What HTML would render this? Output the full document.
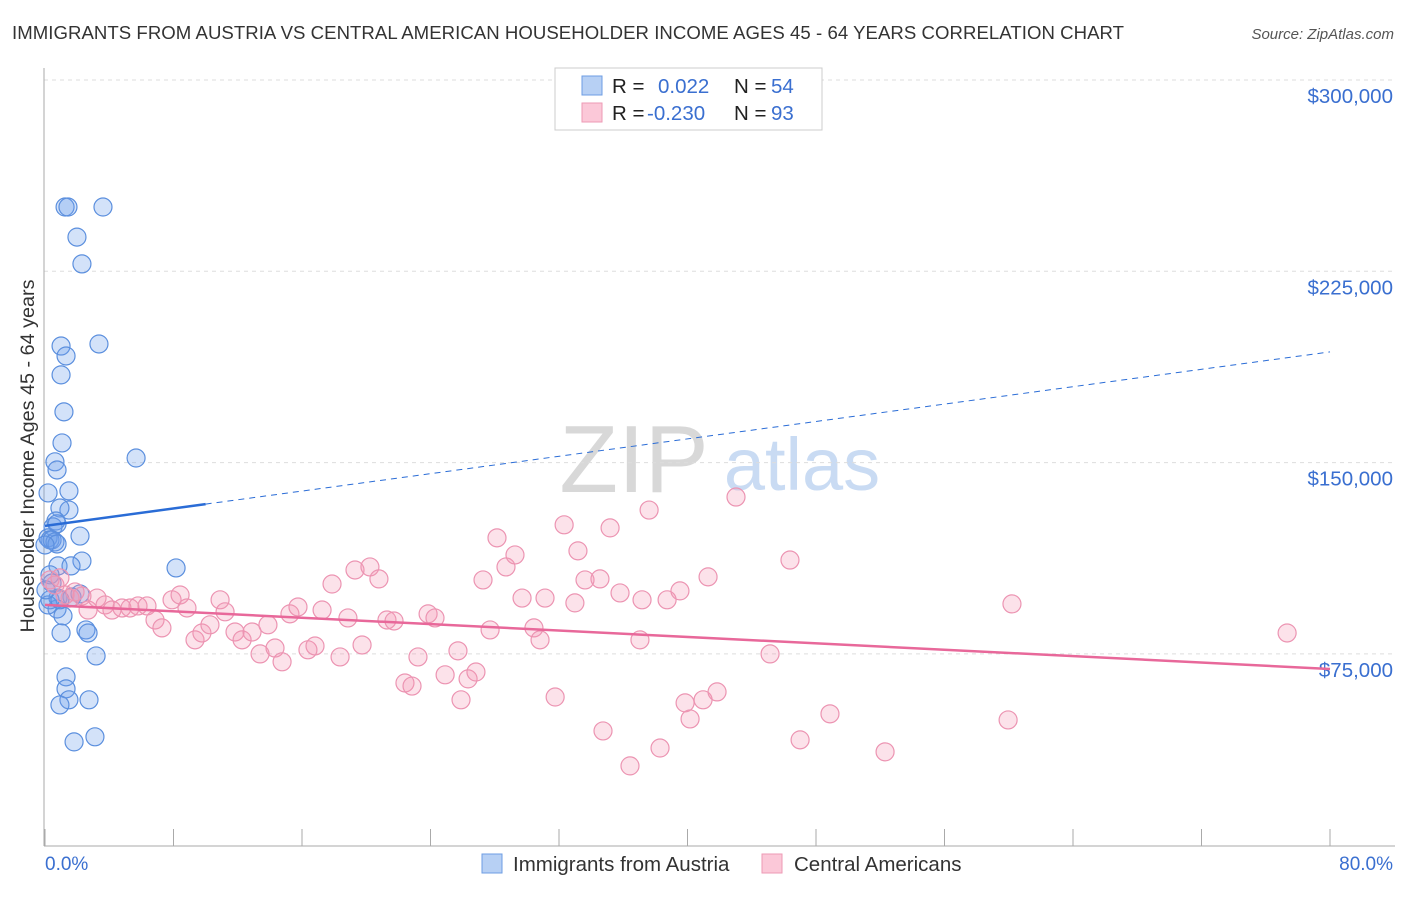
<!DOCTYPE html>
<html><head><meta charset="utf-8"><style>
body{margin:0;background:#fff;font-family:"Liberation Sans",sans-serif;}
svg text{font-family:"Liberation Sans",sans-serif;}
</style></head><body>
<svg id="c" width="1406" height="892" xmlns="http://www.w3.org/2000/svg">
<text x="12" y="39" font-size="18.6" fill="#333" textLength="1112">IMMIGRANTS FROM AUSTRIA VS CENTRAL AMERICAN HOUSEHOLDER INCOME AGES 45 - 64 YEARS CORRELATION CHART</text>
<text x="1394" y="39" font-size="15" fill="#555" font-style="italic" text-anchor="end">Source: ZipAtlas.com</text>
<g>
<text x="634" y="492" font-size="96" fill="#d8d8d8" font-family="Liberation Serif,serif" text-anchor="middle">ZIP</text>
<text x="802" y="490" font-size="74" fill="#c9dbf3" text-anchor="middle">atlas</text>
</g>
<g id="grid"></g>
<g id="axes"></g>
<g id="pts"></g>
<g id="trend"></g>
<text transform="translate(34,456) rotate(-90)" font-size="19.8" fill="#333" text-anchor="middle">Householder Income Ages 45 - 64 years</text>
<text x="45" y="870" font-size="19" fill="#3a6fd0">0.0%</text>
<text x="1393" y="870" font-size="19" fill="#3a6fd0" text-anchor="end">80.0%</text>
<g>
<rect x="555" y="68" width="267" height="62" fill="#fff" stroke="#ccc"/>
<rect x="582" y="76" width="20" height="19" fill="#b7d0f4" stroke="#6d9de3"/>
<rect x="582" y="103" width="20" height="19" fill="#fbc8d8" stroke="#ee9ab5"/>
<text x="612" y="93" font-size="20.5" fill="#222">R =</text>
<text x="658" y="93" font-size="20.5" fill="#3a6fd0">0.022</text>
<text x="734" y="93" font-size="20.5" fill="#222">N =</text>
<text x="771" y="93" font-size="20.5" fill="#3a6fd0">54</text>
<text x="612" y="120" font-size="20.5" fill="#222">R =</text>
<text x="647" y="120" font-size="20.5" fill="#3a6fd0">-0.230</text>
<text x="734" y="120" font-size="20.5" fill="#222">N =</text>
<text x="771" y="120" font-size="20.5" fill="#3a6fd0">93</text>
</g>
<g>
<rect x="482" y="854" width="20" height="19" fill="#b7d0f4" stroke="#6d9de3"/>
<text x="513" y="871" font-size="20.5" fill="#333">Immigrants from Austria</text>
<rect x="762" y="854" width="20" height="19" fill="#fbc8d8" stroke="#ee9ab5"/>
<text x="794" y="871" font-size="20.5" fill="#333">Central Americans</text>
</g>
</svg>
<script>
const yTicks=[300000,225000,150000,75000];
const yTickLabels=["$300,000","$225,000","$150,000","$75,000"];
const xTicks=[0,8,16,24,32,40,48,56,64,72,80];
const blueX=[1.25,1.43,3.61,1.99,2.30,3.36,1.0,1.31,1.0,1.18,1.06,0.62,0.75,5.67,1.49,0.19,1.49,0.93,0.68,0.5,0.75,2.18,0.19,0.31,0.44,0.62,0.75,0,2.30,0.81,1.62,8.16,0.31,0.44,0.81,1.68,2.18,0.75,1.12,2.55,2.68,1.0,3.18,1.31,1.31,1.49,0.93,2.74,1.81,3.11,0.31,0.19,0.93,0.06];
const blueY=[250.2,250.2,250.2,238.4,227.9,196.5,195.7,191.8,184.4,169.9,157.7,150.3,147.1,151.8,138.9,138.1,131.4,132.2,127.1,124.8,126,121.2,120.5,119.7,119.7,118.9,118.1,117.7,111.4,109.5,109.5,108.7,106,102.8,96.9,97.3,98.5,92.6,89.9,84.4,83.2,83.2,74.2,66,61.3,57,55,57,40.5,42.5,96.2,94.2,96.2,100.1];
const pinkX=[0.31,0.62,0.93,1.25,1.56,1.87,2.30,2.68,3.24,3.74,4.17,4.79,5.29,5.79,6.35,6.85,7.28,7.91,8.41,8.84,9.34,9.77,10.27,10.90,11.21,11.83,12.27,12.89,13.39,13.88,14.32,14.76,15.25,15.75,16.37,16.81,17.25,18.37,17.87,18.86,19.30,19.74,20.23,20.79,21.29,21.73,22.41,22.85,23.22,23.85,24.28,24.91,25.71,25.90,26.34,26.83,27.27,27.71,28.14,28.70,29.26,29.70,30.44,30.82,31.13,31.76,32.32,32.99,33.18,33.62,34.55,34.74,35.18,35.80,36.42,37.04,37.17,37.61,38.29,38.73,39.53,39.85,40.16,40.97,41.28,41.84,43.02,45.14,46.38,47.01,48.87,52.30,59.96,60.20,77.33];
const pinkY=[104,102,104.8,98.1,96.9,99.3,97.7,92.2,96.9,94.2,92.2,93,93,93.8,93.8,88.3,85.2,96.2,98.1,93,80.5,83.2,86.4,96.2,91.5,83.6,80.5,83.6,75,86.4,77.3,71.9,90.7,93.4,76.6,78.1,92.2,73.8,102.4,89.1,107.9,78.5,109.1,104.4,88.3,87.9,63.6,62.4,73.8,90.7,89.1,66.8,76.2,57,65.2,67.9,104,84.4,120.5,109.1,113.8,96.9,85.2,80.5,96.9,58.1,125.6,95,115.4,104,104.4,44.8,124.4,98.9,31.1,80.5,96.2,131.4,38.1,96.2,99.7,55.8,49.5,57,105.2,60.1,136.5,75,111.8,41.3,51.5,36.6,49.1,94.6,83.2];
const blueTrend=[125.2,193.4];
const blueSolidEnd=[10];
const pinkTrend=[94.2,69.1];
const NS="http://www.w3.org/2000/svg";
function sx(p){return 45+p/80*1285;}
function sy(v){return 80+(300000-v)/75000*191.3;}
function mk(t,a,parent){const e=document.createElementNS(NS,t);for(const k in a)e.setAttribute(k,a[k]);parent.appendChild(e);return e;}
const grid=document.getElementById('grid'),axes=document.getElementById('axes'),pts=document.getElementById('pts'),trend=document.getElementById('trend');
yTicks.forEach((v,i)=>{
 const l=mk('line',{x1:44,x2:1395,y1:sy(v),y2:sy(v),stroke:'#ddd','stroke-dasharray':'4,4'},grid);
 
 
 const t=mk('text',{x:1393,y:sy(v)+23,'font-size':20.5,fill:'#3a6fd0','text-anchor':'end'},grid);
 t.textContent=yTickLabels[i];
 
 
});
const ax=mk('line',{x1:44,x2:44,y1:68,y2:846,stroke:'#aaa'},axes);


const bx=mk('line',{x1:44,x2:1395,y1:846,y2:846,stroke:'#aaa'},axes);


xTicks.forEach(p=>{
 const t=mk('line',{x1:sx(p),x2:sx(p),y1:829,y2:846,stroke:'#aaa'},axes);
 
 
});
blueX.forEach((x,i)=>{
 const c=mk('circle',{cx:sx(x),cy:sy(blueY[i]*1000),r:9,fill:'rgba(110,160,235,0.3)',stroke:'#5b8fde','stroke-width':1.2},pts);
 
 
});
pinkX.forEach((x,i)=>{
 const c=mk('circle',{cx:sx(x),cy:sy(pinkY[i]*1000),r:9,fill:'rgba(245,150,180,0.28)',stroke:'#ec94b2','stroke-width':1.2},pts);
 
 
});
function by(p){return blueTrend[0]+(blueTrend[1]-blueTrend[0])*p/80;}
const b1=mk('line',{x1:sx(0),y1:sy(by(0)*1000),x2:sx(blueSolidEnd[0]),y2:sy(by(blueSolidEnd[0])*1000),stroke:'#2a6cd6','stroke-width':2.5},trend);


const b2=mk('line',{x1:sx(blueSolidEnd[0]),y1:sy(by(blueSolidEnd[0])*1000),x2:sx(80),y2:sy(by(80)*1000),stroke:'#2a6cd6','stroke-width':1,'stroke-dasharray':'6,5'},trend);


const p1=mk('line',{x1:sx(0),y1:sy(pinkTrend[0]*1000),x2:sx(80),y2:sy(pinkTrend[1]*1000),stroke:'#e8689a','stroke-width':2.5},trend);


</script>
</body></html>
